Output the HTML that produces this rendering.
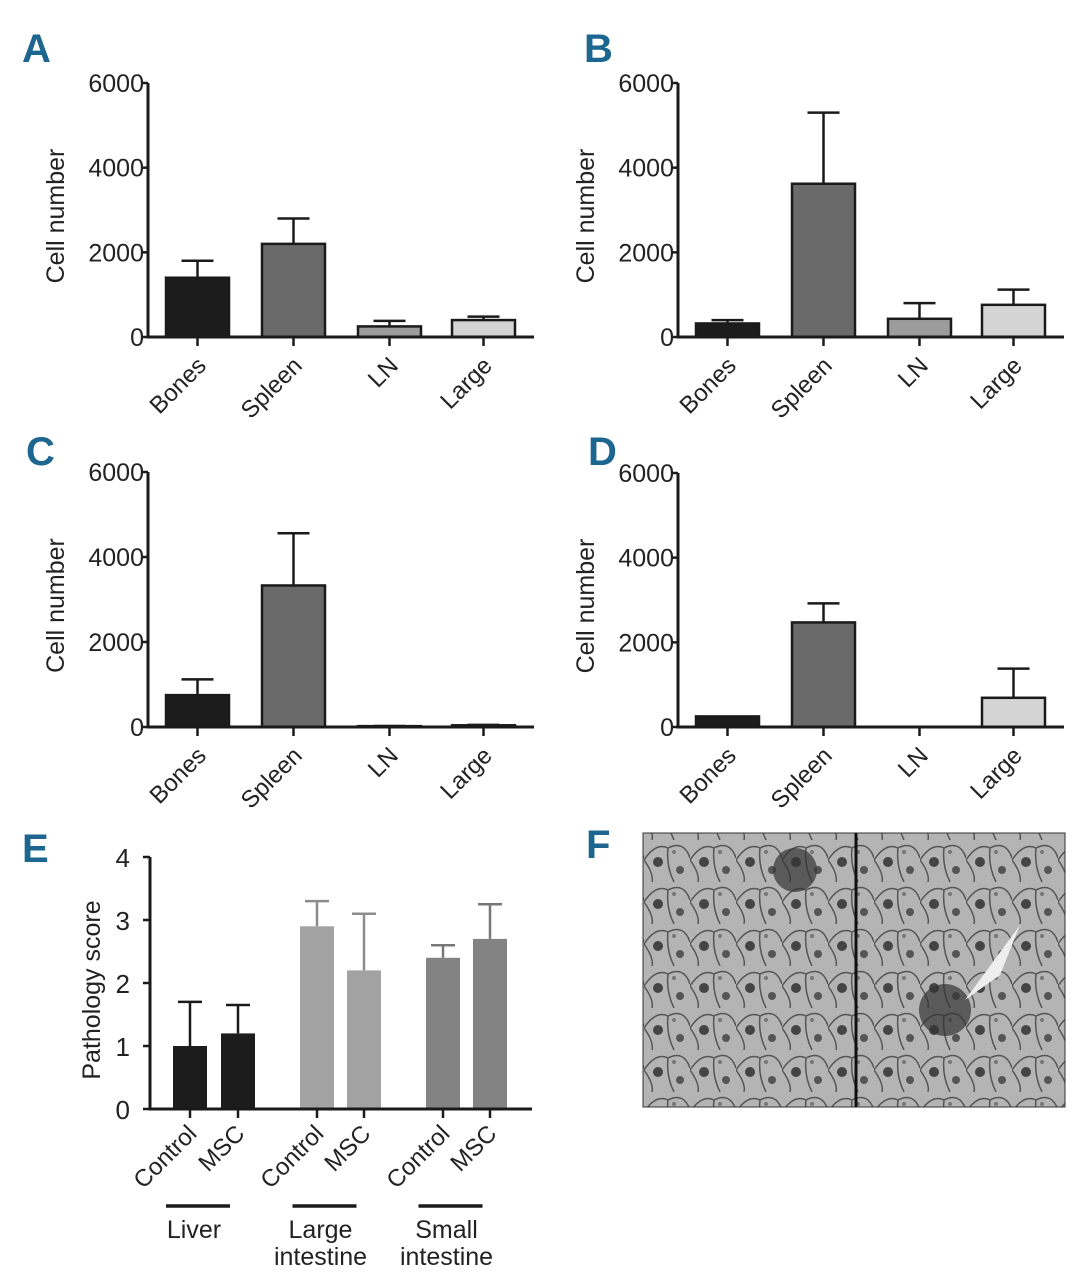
<!DOCTYPE html>
<html><head><meta charset="utf-8"><style>
body{margin:0;background:#fff;}
svg text{font-family:"Liberation Sans Narrow","Liberation Sans",sans-serif;fill:#222;}
.lbl{font-family:"Liberation Sans Narrow","Liberation Sans",sans-serif;font-weight:bold;fill:#1d6690;font-size:40px;}
</style></head><body>
<svg id="fig" width="1092" height="1280" viewBox="0 0 1092 1280" xmlns="http://www.w3.org/2000/svg">
<defs>
<pattern id="cells" width="46" height="42" patternUnits="userSpaceOnUse">
<rect width="46" height="42" fill="#b4b4b4"/>
<path d="M0 20 Q12 2 24 8 Q40 0 46 18 M24 8 Q22 26 30 42 M0 20 Q10 34 8 42" stroke="#555" stroke-width="1.5" fill="none"/>
<circle cx="14" cy="22" r="5" fill="#444"/>
<circle cx="36" cy="30" r="4" fill="#555"/>
<circle cx="30" cy="12" r="2" fill="#777"/>
</pattern>
</defs>
<g id="plots"></g>
</svg>
<script>
const NS="http://www.w3.org/2000/svg";
const root=document.getElementById('plots');
function mk(tag,attrs,parent,text){const e=document.createElementNS(NS,tag);for(const k in attrs)e.setAttribute(k,attrs[k]);if(text!==undefined)e.textContent=text;(parent||root).appendChild(e);return e;}

const cellCats=["Bones","Spleen","LN","Large"];
const cellTicks=[0,2000,4000,6000];
const aMeans=[1400,2200,250,400];
const aErrs=[1800,2800,380,480];
const bMeans=[320,3620,430,760];
const bErrs=[400,5300,800,1120];
const cMeans=[750,3330,20,40];
const cErrs=[1120,4560,25,50];
const dMeans=[250,2470,0,690];
const dErrs=[250,2920,0,1380];
const cellColors=["#1c1c1c","#6a6a6a","#9c9c9c","#d4d4d4"];

const eCats=["Control","MSC","Control","MSC","Control","MSC"];
const eMeans=[1.0,1.2,2.9,2.2,2.4,2.7];
const eErrs=[1.7,1.65,3.3,3.1,2.6,3.25];
const eTicks=[0,1,2,3,4];
const eGroups=["Liver","Large|intestine","Small|intestine"];
const eColors=["#1c1c1c","#1c1c1c","#a2a2a2","#a2a2a2","#838383","#838383"];

function cellPanel(name,ox,top,zero,means,errs,letter,lx,ly){
  const g=mk('g',{});
  
  
  const t=mk('text',{x:lx,y:ly,class:'lbl'},g,letter);
  
  
  const y=v=>zero-(v/6000)*(zero-top);
  const barX=[ox+18,ox+114,ox+210,ox+304];
  const bw=63;
  means.forEach((m,i)=>{
    const x=barX[i],cx=x+bw/2;
    const e=mk('line',{x1:cx,x2:cx,y1:y(m),y2:y(errs[i]),stroke:'#1a1a1a','stroke-width':2.5},g);
    
    
    if(errs[i]>m){const c=mk('line',{x1:cx-16,x2:cx+16,y1:y(errs[i]),y2:y(errs[i]),stroke:'#1a1a1a','stroke-width':2.5},g);
      }
    if(m>0){const r=mk('rect',{x:x,y:y(m),width:bw,height:zero-y(m),fill:cellColors[i],stroke:'#1a1a1a','stroke-width':2.5},g);
      
      }
    const tk=mk('line',{x1:cx,x2:cx,y1:zero,y2:zero+9,stroke:'#1a1a1a','stroke-width':2.5},g);
    
    const tl=mk('text',{x:cx+10,y:zero+30,'font-size':24,'text-anchor':'end',transform:`rotate(-45 ${cx+10} ${zero+30})`},g,cellCats[i]);
    
  });
  const ax=mk('path',{d:`M${ox} ${top} V${zero} H${ox+386}`,stroke:'#1a1a1a','stroke-width':3,fill:'none'},g);
  
  cellTicks.forEach(v=>{
    const l=mk('line',{x1:ox-7,x2:ox,y1:y(v),y2:y(v),stroke:'#1a1a1a','stroke-width':2.5},g);
    
    const tx=mk('text',{x:ox-4,y:y(v)+9,'font-size':25,'text-anchor':'end'},g,String(v));
    
  });
  const yl=mk('text',{x:ox-84,y:(top+zero)/2+6,'font-size':25,'text-anchor':'middle',transform:`rotate(-90 ${ox-84} ${(top+zero)/2+6})`},g,'Cell number');
  
}
cellPanel('panel-a',148,83,337,aMeans,aErrs,'A',22,62);
cellPanel('panel-b',678,83,337,bMeans,bErrs,'B',584,62);
cellPanel('panel-c',148,472,727,cMeans,cErrs,'C',26,465);
cellPanel('panel-d',678,473,727,dMeans,dErrs,'D',588,465);

// Panel E
(function(){
  const g=mk('g',{});
  
  
  const t=mk('text',{x:22,y:862,class:'lbl'},g,'E');
  
  const ox=150,top=857,zero=1109;
  const y=v=>zero-(v/4)*(zero-top);
  const barX=[173,221,300,347,426,473];
  const bw=34;
  eMeans.forEach((m,i)=>{
    const x=barX[i],cx=x+bw/2;
    const ec=i<2?'#1a1a1a':(i<4?'#8c8c8c':'#777');
    const e=mk('line',{x1:cx,x2:cx,y1:y(m),y2:y(eErrs[i]),stroke:ec,'stroke-width':2.5},g);
    
    const c=mk('line',{x1:cx-12,x2:cx+12,y1:y(eErrs[i]),y2:y(eErrs[i]),stroke:ec,'stroke-width':2.5},g);
    
    const r=mk('rect',{x:x,y:y(m),width:bw,height:zero-y(m),fill:eColors[i]},g);
    
    const tk=mk('line',{x1:cx,x2:cx,y1:zero,y2:zero+9,stroke:'#1a1a1a','stroke-width':2.5},g);
    
    const tl=mk('text',{x:cx+8,y:zero+26,'font-size':24,'text-anchor':'end',transform:`rotate(-45 ${cx+8} ${zero+26})`},g,eCats[i]);
    
  });
  const ax=mk('path',{d:`M${ox} ${top} V${zero} H532`,stroke:'#1a1a1a','stroke-width':3,fill:'none'},g);
  
  eTicks.forEach(v=>{
    const l=mk('line',{x1:ox-7,x2:ox,y1:y(v),y2:y(v),stroke:'#1a1a1a','stroke-width':2.5},g);
    
    const tx=mk('text',{x:ox-20,y:y(v)+10,'font-size':26,'text-anchor':'end'},g,String(v));
    
  });
  const yl=mk('text',{x:100,y:990,'font-size':25,'text-anchor':'middle',transform:'rotate(-90 100 990)'},g,'Pathology score');
  
  eGroups.forEach((grp,k)=>{
    const cx=(barX[2*k]+barX[2*k+1]+bw)/2-16;
    const ln=mk('line',{x1:cx-32,x2:cx+32,y1:1206,y2:1206,stroke:'#1a1a1a','stroke-width':3.5},g);
    
    grp.split('|').forEach((s,j)=>{
      const tx=mk('text',{x:cx-4,y:1238+j*27,'font-size':25,'text-anchor':'middle'},g,s);
      
    });
  });
})();

// Panel F
(function(){
  const g=mk('g',{});
  
  
  const t=mk('text',{x:586,y:858,class:'lbl'},g,'F');
  
  const r=mk('rect',{x:643,y:833,width:422,height:274,fill:'url(#cells)',stroke:'#333','stroke-width':1},g);
  
  const d1=mk('circle',{cx:795,cy:870,r:22,fill:'#333',opacity:0.7},g);
  
  const d2=mk('circle',{cx:945,cy:1010,r:26,fill:'#333',opacity:0.7},g);
  
  const v=mk('path',{d:'M965 1000 L1020 925 L1000 975 Z',fill:'#eee'},g);
  
  const ln=mk('line',{x1:856,x2:856,y1:833,y2:1107,stroke:'#111','stroke-width':3},g);
  
})();
</script>
</body></html>
